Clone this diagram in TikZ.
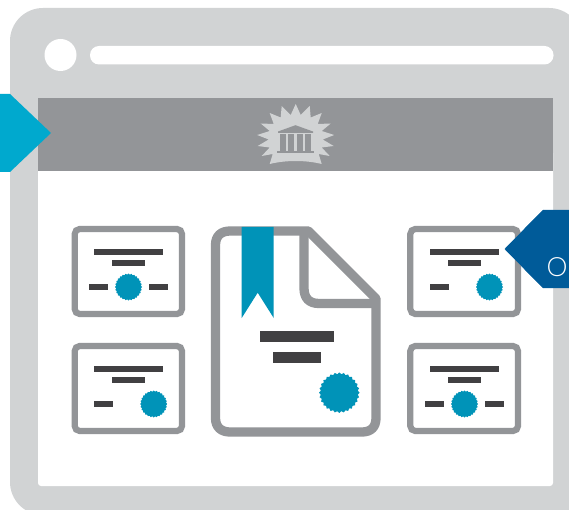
\documentclass[tikz,border=0pt]{standalone}
\usepackage{fontspec}
\usetikzlibrary{shapes.geometric}
\newfontfamily\lightfont[UprightFont=* Light]{Lato}
\definecolor{framegray}{HTML}{D1D3D4}
\definecolor{bandgray}{HTML}{939598}
\definecolor{ink}{HTML}{414042}
\definecolor{seal}{HTML}{0093B8}
\definecolor{cyanflag}{HTML}{00A9CE}
\definecolor{blueflag}{HTML}{005B99}
\tikzset{
  cardbox/.style={draw=bandgray,line width=6.2pt,rounded corners=5pt,fill=white},
  inkbar/.style={fill=ink},
  sealmark/.style={star,star points=28,star point ratio=1.09,fill=seal,draw=none,inner sep=0pt,minimum size=#1},
  docline/.style={draw=bandgray,line width=9.3pt,line join=round}
}
\begin{document}
\begin{tikzpicture}[x=1pt,y=-1pt]
\clip (0,0) rectangle (569,510);
\fill[white] (0,0) rectangle (569,510);
% window
\fill[framegray,rounded corners=33pt] (10,8) rectangle (582,515);
\fill[framegray] (300,470) rectangle (569,510);
\fill[white] (60.5,55) circle (16);
\fill[white,rounded corners=9pt] (90,46) rectangle (553.5,64.5);
\fill[white,rounded corners=3pt] (38,150) rectangle (553,486);
\fill[bandgray] (38,98) rectangle (553,171);
% emblem
\fill[framegray,shift={(295.7,135)}]
  (0,-31) -- (5,-20) -- (14,-29) -- (15,-17.5) -- (26,-22) -- (22,-11) -- (35,-11.5) -- (26,-4)
  -- (38.5,0) -- (27,4.5) -- (38,11) -- (26,12.5) -- (34,21) -- (23,19) -- (26,29)
  .. controls (10,25) and (-10,25) .. (-26,29)
  -- (-23,19) -- (-34,21) -- (-26,12.5) -- (-38,11) -- (-27,4.5) -- (-38.5,0) -- (-26,-4)
  -- (-35,-11.5) -- (-22,-11) -- (-26,-22) -- (-15,-17.5) -- (-14,-29) -- (-5,-20) -- cycle;
\fill[bandgray] (295.5,125.2) -- (313,131.5) -- (313,133) -- (278,133) -- (278,131.5) -- cycle;
\foreach \cx in {282.7,291.2,299.7,308.2}
  \fill[bandgray] (\cx-3.2,134.5) rectangle (\cx+3.2,151.5);
\fill[bandgray] (277,151.5) rectangle (314,153.5);
% flags
\fill[cyanflag] (0,94) -- (10,94) -- (51,133) -- (10,172) -- (0,172) -- cycle;
\fill[blueflag] (504.5,249) -- (543,210) -- (569,210) -- (569,288) -- (543,288) -- cycle;
\node[text=white,font=\lightfont\fontsize{26.5}{26.5}\selectfont,inner sep=0pt] (otext) at (557,267) {O};
% left cards
\draw[cardbox] (74.7,229) rectangle (182,314);
\fill[inkbar] (94,249) rectangle (163,255);
\fill[inkbar] (112,260) rectangle (145,266);
\fill[inkbar] (89,284) rectangle (108,290);
\fill[inkbar] (149,284) rectangle (168,290);
\node[sealmark=27pt] (seala) at (128.5,287) {};
\draw[cardbox] (74.7,346) rectangle (182,431);
\fill[inkbar] (94,366) rectangle (163,372);
\fill[inkbar] (112,377) rectangle (145,383);
\fill[inkbar] (94,401) rectangle (113,407);
\node[sealmark=27pt] (sealb) at (153.7,404) {};
% right cards
\draw[cardbox] (410.3,229) rectangle (518,314);
\fill[inkbar] (430,249) rectangle (499,255);
\fill[inkbar] (448,260) rectangle (481,266);
\fill[inkbar] (430,284) rectangle (449,290);
\node[sealmark=27pt] (sealc) at (489.5,287) {};
\draw[cardbox] (410.3,346) rectangle (518,431);
\fill[inkbar] (430,366) rectangle (499,372);
\fill[inkbar] (448,377) rectangle (481,383);
\fill[inkbar] (425,401) rectangle (444,407);
\fill[inkbar] (485,401) rectangle (504,407);
\node[sealmark=27pt] (seald) at (464.5,404) {};
% redraw flag tip over card edge
\fill[blueflag] (504.5,249) -- (543,210) -- (543,288) -- cycle;
% central document
\fill[white] (222,231) -- (308,231) -- (376,299) -- (376,432) -- (215,432) -- cycle;
\draw[docline] (215.5,245) .. controls (215.5,236) and (221,231) .. (230,231)
  -- (308.4,231) -- (376,298.6) -- (376,418) .. controls (376,427) and (371,432) .. (362,432)
  -- (230,432) .. controls (221,432) and (215.5,427) .. (215.5,418) -- cycle;
\draw[docline] (304,231) -- (304,288) .. controls (304,298) and (309,303.5) .. (319,303.5) -- (376,303.5);
\fill[seal] (241.7,227) -- (273.7,227) -- (273.7,318) -- (257.7,292.7) -- (241.7,318) -- cycle;
\fill[inkbar] (260,331) rectangle (334,342);
\fill[inkbar] (273,352) rectangle (321,363);
\node[sealmark=40.5pt] (seale) at (339.3,392.7) {};
\end{tikzpicture}
\end{document}
